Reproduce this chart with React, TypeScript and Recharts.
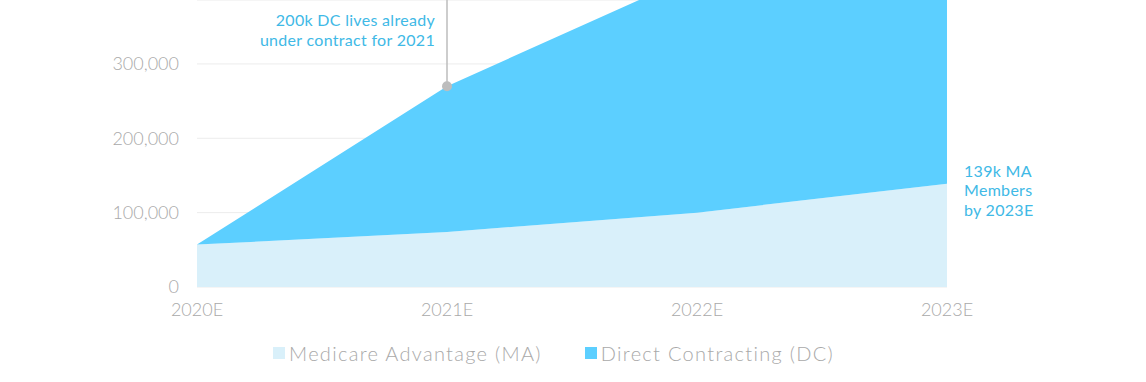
import React from 'react';
import {
  AreaChart,
  Area,
  XAxis,
  YAxis,
  CartesianGrid,
  Legend,
  ReferenceDot,
  ReferenceLine,
} from 'recharts';

const years = ['2020E', '2021E', '2022E', '2023E'];
const maMembers = [57000, 74000, 100000, 139000];
const dcLives = [0, 196000, 321000, 460000];
const yTicks = [0, 100000, 200000, 300000];

const MA_COLOR = '#d9f0fa';
const DC_COLOR = '#5ccfff';
const NOTE_COLOR = '#40b9e6';
const AXIS_COLOR = '#a9a9a9';
const FONT = 'Lato, "DejaVu Sans", sans-serif';

const data = years.map((year, i) => ({ year, ma: maMembers[i], dc: dcLives[i] }));

const legendItems = [
  { key: 'ma', label: 'Medicare Advantage (MA)', color: MA_COLOR },
  { key: 'dc', label: 'Direct Contracting (DC)', color: DC_COLOR },
];

const LegendContent = () => (
  <div style={{ display: 'flex', alignItems: 'center', fontFamily: FONT, fontWeight: 300, fontSize: 20, letterSpacing: 1.3, color: AXIS_COLOR, whiteSpace: 'nowrap' }}>
    {legendItems.map((item, i) => (
      <div key={item.key} style={{ display: 'flex', alignItems: 'center', marginLeft: i === 0 ? 0 : 43 }}>
        <span style={{ display: 'inline-block', width: 12, height: 12, background: item.color, marginRight: 4 }} />
        <span>{item.label}</span>
      </div>
    ))}
  </div>
);

const DcNote = (props: any) => {
  const { x, y } = props.viewBox || {};
  const cx = x + 5;
  const cy = y + 5;
  return (
    <text x={cx - 12} y={cy - 60} textAnchor="end" fill={NOTE_COLOR} fontFamily={FONT} fontSize={16} letterSpacing={0.3}>
      <tspan x={cx - 12} dy={0}>200k DC lives already</tspan>
      <tspan x={cx - 12} dy={19.5}>under contract for 2021</tspan>
    </text>
  );
};

const MaNote = (props: any) => {
  const { x, y } = props.viewBox || {};
  return (
    <text x={x + 17} y={y - 7} textAnchor="start" fill={NOTE_COLOR} fontFamily={FONT} fontSize={16} letterSpacing={0.3}>
      <tspan x={x + 17} dy={0}>139k MA</tspan>
      <tspan x={x + 17} dy={19.5}>Members</tspan>
      <tspan x={x + 17} dy={19.5}>by 2023E</tspan>
    </text>
  );
};

export default function App() {
  const dcTotal2021 = maMembers[1] + dcLives[1];
  return (
    <div style={{ position: 'absolute', left: 0, top: 0, width: 1146, height: 382, background: '#fff' }}>
      <AreaChart width={1146} height={382} data={data} margin={{ top: 0, right: 199, bottom: 65, left: 0 }}>
        <CartesianGrid vertical={false} stroke="#ececec" />
        <XAxis
          dataKey="year"
          axisLine={false}
          tickLine={false}
          tickSize={0}
          tickMargin={16}
          height={30}
          tick={{ fill: AXIS_COLOR, fontSize: 18, fontFamily: FONT, fontWeight: 300 }}
        />
        <YAxis
          width={197}
          domain={[0, 386000]}
          allowDataOverflow
          ticks={yTicks}
          axisLine={false}
          tickLine={false}
          tickSize={0}
          tickMargin={18}
          tickFormatter={(v: number) => v.toLocaleString('en-US')}
          tick={{ fill: AXIS_COLOR, fontSize: 18, fontFamily: FONT, fontWeight: 300 }}
        />
        <Area
          type="linear"
          dataKey="ma"
          name="Medicare Advantage (MA)"
          stackId="members"
          stroke="none"
          fill={MA_COLOR}
          fillOpacity={1}
          isAnimationActive={false}
        />
        <Area
          type="linear"
          dataKey="dc"
          name="Direct Contracting (DC)"
          stackId="members"
          stroke="none"
          fill={DC_COLOR}
          fillOpacity={1}
          isAnimationActive={false}
        />
        <ReferenceLine
          segment={[{ x: '2021E', y: dcTotal2021 }, { x: '2021E', y: 386000 }]}
          stroke="#bcbcbc"
          strokeWidth={1.5}
        />
        <ReferenceDot x="2021E" y={dcTotal2021} r={5} fill="#bdbdbd" stroke="none" label={<DcNote />} />
        <ReferenceDot x="2023E" y={maMembers[3]} r={0} fill="none" stroke="none" label={<MaNote />} />
        <Legend
          layout="horizontal"
          verticalAlign="middle"
          align="center"
          content={<LegendContent />}
          wrapperStyle={{ left: 273, top: 341, width: 'auto', height: 'auto' }}
        />
      </AreaChart>
    </div>
  );
}
